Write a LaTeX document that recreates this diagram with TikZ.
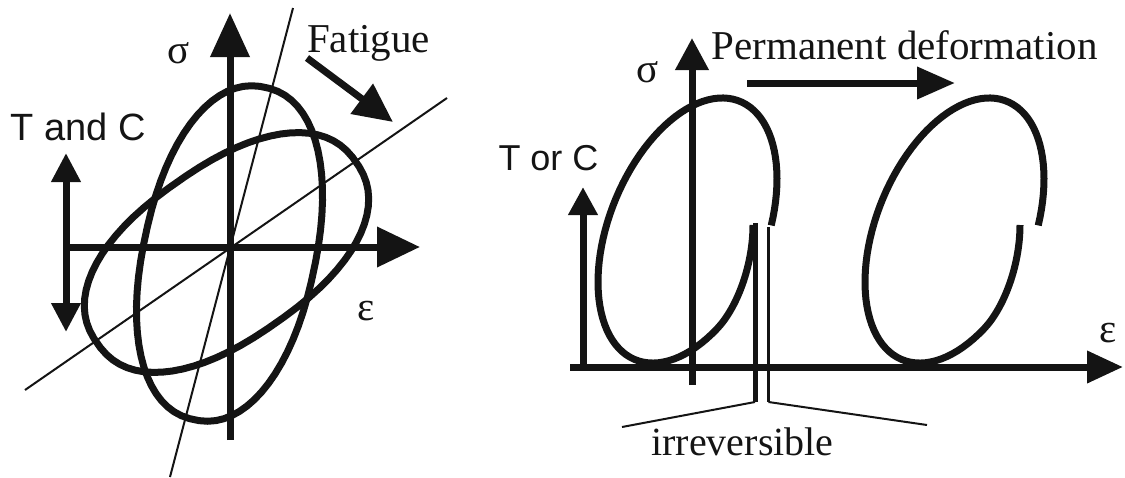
\documentclass[tikz,border=0pt]{standalone}
\usepackage{fontspec}
\setmainfont{Liberation Serif}
\newfontfamily\sansf{Liberation Sans}
\usetikzlibrary{arrows.meta}
\definecolor{ink}{HTML}{141414}
\begin{document}
\begin{tikzpicture}[x=1pt,y=-1pt,
  thick axis/.style={line width=7pt, draw=ink},
  loopline/.style={line width=7pt, draw=ink, line join=round},
  thinline/.style={line width=2pt, draw=ink},
  serif lbl/.style={text=ink, inner sep=0pt, anchor=base, font=\fontsize{41}{41}\selectfont},
  sans lbl/.style={text=ink, inner sep=0pt, anchor=base, font=\sansf\fontsize{38}{38}\selectfont},
]
\useasboundingbox (0,0) rectangle (1125,477);

% ---------- left diagram ----------
\coordinate (s1b) at (230,440);
\coordinate (s1t) at (230,13);
\coordinate (e1l) at (68,247);
\coordinate (e1r) at (420,247);
\coordinate (tcb) at (66,332);
\coordinate (tct) at (66,153);
\coordinate (fa) at (307,58);
\coordinate (fb) at (393,122);
\coordinate (l1a) at (170,477);
\coordinate (l1b) at (293,8);
\coordinate (l2a) at (25,390);
\coordinate (l2b) at (447,98);

\draw[thinline] (l1a) -- (l1b);
\draw[thinline] (l2a) -- (l2b);

% wide loop (rounded, tilted 35 degrees)
\draw[loopline] plot[domain=2.5:357.5, samples=72, variable=\t]
 ({226.5 + 0.819*(158*cos(\t)*pow(abs(cos(\t)),-0.13)) + 0.574*(86*sin(\t)*pow(abs(sin(\t)),-0.13))},
  {252.5 - 0.574*(158*cos(\t)*pow(abs(cos(\t)),-0.13)) + 0.819*(86*sin(\t)*pow(abs(sin(\t)),-0.13))}) -- cycle;
% tall loop (tilted 12 degrees from vertical)
\draw[loopline] plot[domain=2.5:357.5, samples=72, variable=\t]
 ({229.5 + 0.208*(170*cos(\t)*pow(abs(cos(\t)),-0.09)) + 0.978*(86*sin(\t)*pow(abs(sin(\t)),-0.09))},
  {253.5 - 0.978*(170*cos(\t)*pow(abs(cos(\t)),-0.09)) + 0.208*(86*sin(\t)*pow(abs(sin(\t)),-0.09))}) -- cycle;

\draw[thick axis, -{Triangle[length=44pt,width=38pt]}] (s1b) -- (s1t);
\draw[thick axis, -{Triangle[length=43pt,width=39pt]}] (e1l) -- (e1r);
\draw[thick axis, {Triangle[length=29pt,width=28pt]}-{Triangle[length=29pt,width=28pt]}] (tcb) -- (tct);
\draw[thick axis, -{Triangle[length=39pt,width=36pt]}] (fa) -- (fb);

\node[serif lbl] (sig1) at (179,63) {σ};
\node[serif lbl] (eps1) at (366.5,320) {ε};
\node[sans lbl] (tandc) at (78.5,140) {T and C};
\node[serif lbl] (fatigue) at (368.5,52) {Fatigue};

% ---------- right diagram ----------
\coordinate (s2b) at (692,385);
\coordinate (s2t) at (692,38);
\coordinate (e2l) at (570,367);
\coordinate (e2r) at (1123,367);
\coordinate (tob) at (583,370);
\coordinate (tot) at (583,187);
\coordinate (pa) at (747,83);
\coordinate (pb) at (955,83);

\foreach \dx in {0,267}{
 \begin{scope}[xshift=\dx pt]
  \draw[loopline] plot[domain=75:-235, samples=90, variable=\t]
   ({687.5 + 52.22*cos(\t) + 72.69*sin(\t)}, {230.5 - 129.25*cos(\t) + 29.37*sin(\t)})
   .. controls +(20,-21) and (753,265) .. (753,225);
 \end{scope}
}

\draw[thick axis, -{Triangle[length=32pt,width=32pt]}] (s2b) -- (s2t);
\draw[thick axis, -{Triangle[length=36pt,width=31pt]}] (e2l) -- (e2r);
\draw[thick axis, -{Triangle[length=28pt,width=28pt]}] (tob) -- (tot);
\draw[thick axis, -{Triangle[length=38pt,width=31pt]}] (pa) -- (pb);

\coordinate (v1t) at (755,223);
\coordinate (v1b) at (755,402);
\coordinate (v2t) at (768.5,227);
\coordinate (v2b) at (768.5,402);
\coordinate (bl) at (622,427);
\coordinate (br) at (927,425);
\draw[line width=5pt, draw=ink] (v1t) -- (v1b);
\draw[line width=2.5pt, draw=ink] (v2t) -- (v2b);
\draw[thinline] (v1b) -- (bl);
\draw[thinline] (v2b) -- (br);

\node[serif lbl] (sig2) at (648,82) {σ};
\node[serif lbl] (eps2) at (1108,342) {ε};
\node[sans lbl, font=\sansf\fontsize{36}{36}\selectfont] (torc) at (548.5,170) {T or C};
\node[serif lbl] (perm) at (904.5,59) {Permanent deformation};
\node[serif lbl, font=\fontsize{40}{40}\selectfont] (irr) at (742.5,455) {irreversible};
\end{tikzpicture}
\end{document}
